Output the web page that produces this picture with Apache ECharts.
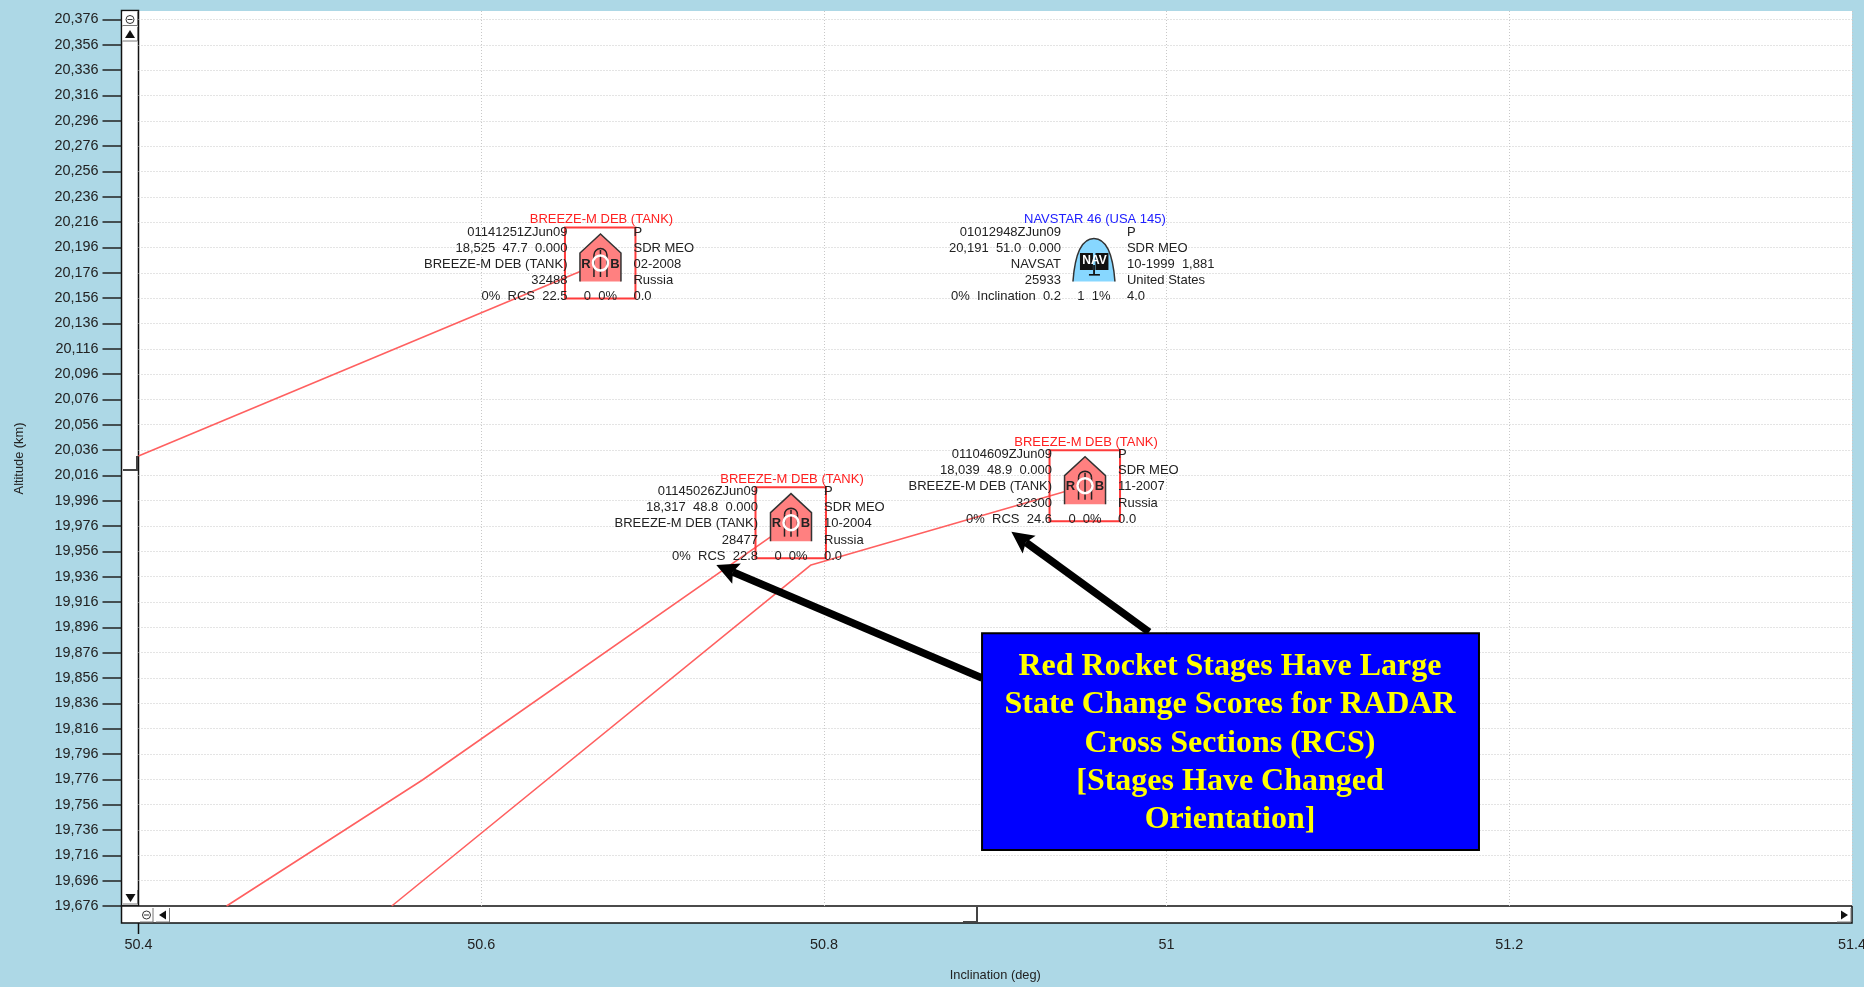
<!DOCTYPE html>
<html>
<head>
<meta charset="utf-8">
<style>html,body{margin:0;padding:0;background:#ADD8E6;overflow:hidden}#c{width:1864px;height:987px}</style>
<script src="https://cdn.jsdelivr.net/npm/echarts@6/dist/echarts.min.js"></script>
</head>
<body>
<div id="c"></div>
<script>
const altitudeTicks = [19676,19696,19716,19736,19756,19776,19796,19816,19836,19856,19876,19896,19916,19936,19956,19976,19996,20016,20036,20056,20076,20096,20116,20136,20156,20176,20196,20216,20236,20256,20276,20296,20316,20336,20356,20376];

const track1 = [[50.4,20031.3],[50.6696,20183.7]];
const track2 = [[50.4514,19676],[50.5657,19775.5],[50.7808,19978.7]];
const track3 = [[50.5478,19676],[50.7925,19945.3],[50.9524,20007.9]];

const objectPositions = [[50.6696,20183.7],[50.7808,19978.7],[50.9524,20007.9],[50.9576,20183.7]];
const objectTitles = ['BREEZE-M DEB (TANK)','BREEZE-M DEB (TANK)','BREEZE-M DEB (TANK)','NAVSTAR 46 (USA 145)'];
const objectKinds = ['rocket','rocket','rocket','nav'];
const objectLeft = [
  ['01141251ZJun09','18,525  47.7  0.000','BREEZE-M DEB (TANK)','32488','0%  RCS  22.5'],
  ['01145026ZJun09','18,317  48.8  0.000','BREEZE-M DEB (TANK)','28477','0%  RCS  22.8'],
  ['01104609ZJun09','18,039  48.9  0.000','BREEZE-M DEB (TANK)','32300','0%  RCS  24.6'],
  ['01012948ZJun09','20,191  51.0  0.000','NAVSAT','25933','0%  Inclination  0.2']
];
const objectRight = [
  ['P','SDR MEO','02-2008','Russia','0.0'],
  ['P','SDR MEO','10-2004','Russia','0.0'],
  ['P','SDR MEO','11-2007','Russia','0.0'],
  ['P','SDR MEO','10-1999  1,881','United States','4.0']
];
const objectCenter = ['0  0%','0  0%','0  0%','1  1%'];

const arrowTips = [[50.7372,19945.3],[50.9094,19971.5]];
const arrowBases = [[50.8923,19856],[50.9898,19892.3]];
const calloutCorners = [[50.8923,19891.3],[51.1823,19720.2]];
const calloutLines = ['Red Rocket Stages Have Large','State Change Scores for RADAR','Cross Sections (RCS)','[Stages Have Changed','Orientation]'];

const FONT = '"Liberation Sans", Arial, sans-serif';
const txtFont = '13px ' + FONT;
const RED = '#FF3B3B';

function t(text, x, y, align, fill, font) {
  return {type:'text', style:{text, x, y, textAlign:align, textVerticalAlign:'middle', fill:fill||'#222', font:font||txtFont}};
}
function rocketIcon(cx, cy) {
  const s = '#222';
  const c = [];
  c.push({type:'polygon', shape:{points:[[cx,cy-29],[cx+20.5,cy-10],[cx+20.5,cy+18.5],[cx-20.5,cy+18.5],[cx-20.5,cy-10]]}, style:{fill:'#FF8080', stroke:null}});
  c.push({type:'polyline', shape:{points:[[cx-20.5,cy+18.5],[cx-20.5,cy-10],[cx,cy-29],[cx+20.5,cy-10],[cx+20.5,cy+18.5]]}, style:{fill:null, stroke:'#333', lineWidth:1.5}});
  c.push({type:'polyline', shape:{points:[[cx-6.5,cy+14],[cx-6.5,cy-8]]}, style:{fill:null, stroke:s, lineWidth:1.5}});
  c.push({type:'polyline', shape:{points:[[cx+6.5,cy+14],[cx+6.5,cy-8]]}, style:{fill:null, stroke:s, lineWidth:1.5}});
  c.push({type:'polyline', shape:{points:[[cx,cy+14],[cx,cy-13]]}, style:{fill:null, stroke:s, lineWidth:1.5}});
  c.push({type:'arc', shape:{cx:cx, cy:cy-8, r:6.5, startAngle:Math.PI, endAngle:2*Math.PI}, style:{fill:null, stroke:s, lineWidth:1.5}});
  c.push({type:'circle', shape:{cx:cx, cy:cy, r:7.5}, style:{fill:null, stroke:'#fff', lineWidth:2.5}});
  c.push(t('R', cx-14.5, cy+1, 'center', '#222', 'bold 13px ' + FONT));
  c.push(t('B', cx+14.5, cy+1, 'center', '#222', 'bold 13px ' + FONT));
  return c;
}
function navIcon(cx, cy) {
  const c = [];
  c.push({type:'path', shape:{pathData:'M0 43 C2 16 9 0 21 0 C33 0 40 16 42 43', x:cx-21, y:cy-24.5, width:42, height:43, layout:'cover'}, style:{fill:'#87D7FF', stroke:'#333', lineWidth:1.5}});
  c.push({type:'rect', shape:{x:cx-14, y:cy-10, width:13, height:17}, style:{fill:'#111'}});
  c.push({type:'rect', shape:{x:cx+1.5, y:cy-10, width:13, height:17}, style:{fill:'#111'}});
  c.push({type:'rect', shape:{x:cx-0.8, y:cy+2, width:1.8, height:10}, style:{fill:'#111'}});
  c.push({type:'rect', shape:{x:cx-5, y:cy+11, width:11, height:1.6}, style:{fill:'#111'}});
  c.push(t('NAV', cx+0.5, cy-2, 'center', '#fff', 'bold 12px ' + FONT));
  return c;
}
const rowOffsets = [-31,-15,1,17.5,33.5];
function renderObject(params, api) {
  const i = api.value(2);
  const p = api.coord([api.value(0), api.value(1)]);
  const cx = p[0], cy = p[1];
  let ch = [];
  if (objectKinds[i] === 'rocket') {
    ch.push({type:'rect', shape:{x:cx-35.5, y:cy-35.5, width:70.5, height:71}, style:{fill:null, stroke:RED, lineWidth:2}});
    ch = ch.concat(rocketIcon(cx, cy));
  } else {
    ch = ch.concat(navIcon(cx, cy));
  }
  const titleColor = objectKinds[i] === 'rocket' ? '#FF2020' : '#2020FF';
  ch.push(t(objectTitles[i], cx+1, cy-43.5, 'center', titleColor));
  objectLeft[i].forEach((s, k) => ch.push(t(s, cx-33, cy+rowOffsets[k], 'right')));
  objectRight[i].forEach((s, k) => ch.push(t(s, cx+33, cy+rowOffsets[k], 'left')));
  ch.push(t(objectCenter[i], cx, cy+33.5, 'center'));
  return {type:'group', children:ch};
}
function renderArrow(params, api) {
  const a = api.coord([api.value(0), api.value(1)]);
  const b = api.coord([api.value(2), api.value(3)]);
  const dx = b[0]-a[0], dy = b[1]-a[1], L = Math.hypot(dx, dy), ux = dx/L, uy = dy/L, nx = -uy, ny = ux;
  const hl = 22, hw = 11, ns = 18;
  return {type:'group', children:[
    {type:'line', shape:{x1:a[0]+ux*ns, y1:a[1]+uy*ns, x2:b[0], y2:b[1]}, style:{stroke:'#000', lineWidth:7.5}},
    {type:'polygon', shape:{points:[a,[a[0]+ux*hl+nx*hw,a[1]+uy*hl+ny*hw],[a[0]+ux*ns,a[1]+uy*ns],[a[0]+ux*hl-nx*hw,a[1]+uy*hl-ny*hw]]}, style:{fill:'#000'}}
  ]};
}
function renderCallout(params, api) {
  const a = api.coord([api.value(0), api.value(1)]);
  const b = api.coord([api.value(2), api.value(3)]);
  const cx = (a[0]+b[0])/2 - 0.5;
  const ch = [{type:'rect', shape:{x:a[0], y:a[1], width:b[0]-a[0], height:b[1]-a[1]}, style:{fill:'#0000FF', stroke:'#000', lineWidth:2}}];
  calloutLines.forEach((s, k) => ch.push(t(s, cx, a[1]+33.5+k*38.3, 'center', '#FFFF00', 'bold 32px "Liberation Serif", serif')));
  return {type:'group', children:ch};
}
function btn(x, y, w, h) {
  return [
    {type:'rect', shape:{x, y, width:w, height:h}, style:{fill:'#fff', stroke:null}},
    {type:'polyline', shape:{points:[[x+w,y],[x+w,y+h],[x,y+h]]}, style:{fill:null, stroke:'#777', lineWidth:1}}
  ];
}
function tri(pts) { return {type:'polygon', shape:{points:pts}, style:{fill:'#111'}}; }
function minusBtn(cx, cy) {
  return [
    {type:'circle', shape:{cx, cy, r:4}, style:{fill:null, stroke:'#333', lineWidth:1}},
    {type:'line', shape:{x1:cx-2.5, y1:cy, x2:cx+2.5, y2:cy}, style:{stroke:'#333', lineWidth:1}}
  ];
}
const chrome = [].concat(
  [{type:'rect', shape:{x:121.5, y:10.5, width:17, height:895.5}, style:{fill:'#fff', stroke:'#111', lineWidth:1.5}}],
  [{type:'rect', shape:{x:121.5, y:906, width:1730.5, height:17}, style:{fill:'#fff', stroke:'#111', lineWidth:1.5}}],
  btn(122.5, 11.5, 15, 14), minusBtn(130, 19.5),
  btn(122.5, 27, 15, 14), [tri([[130,30],[135,38],[125,38]])],
  btn(123, 890, 14.5, 14), [tri([[130.5,902],[125.5,894],[135.5,894]])],
  btn(140, 908, 13, 14), minusBtn(146.5, 915),
  btn(156, 908, 13.5, 14), [tri([[159,915],[166,910.5],[166,919.5]])],
  btn(1837, 908, 14, 14), [tri([[1848,915],[1841,910.5],[1841,919.5]])],
  [
    {type:'polyline', shape:{points:[[123,470],[137,470],[137,456]]}, style:{fill:null, stroke:'#444', lineWidth:2}},
    {type:'polyline', shape:{points:[[963,922],[977,922],[977,907]]}, style:{fill:null, stroke:'#444', lineWidth:2}},
    {type:'line', shape:{x1:138.5, y1:923, x2:138.5, y2:934}, style:{stroke:'#111', lineWidth:1.5}}
  ]
);
const gridLine = {show:true, showMinLine:false, lineStyle:{type:[1,2], color:'#c8c8c8', width:1}};
const redLine = {color:'#FF6060', width:1.6};
function trackSeries(data) {
  return {type:'line', data, showSymbol:false, symbol:'none', z:2, silent:true, lineStyle:redLine, animation:false, clip:true};
}
const chart = echarts.init(document.getElementById('c'));
chart.setOption({
  animation:false,
  backgroundColor:'#ADD8E6',
  tooltip:{show:false},
  textStyle:{fontFamily:FONT},
  grid:{left:138.5, right:12, top:11, bottom:81, show:true, backgroundColor:'#fff', borderWidth:0, outerBoundsMode:'none'},
  xAxis:{
    type:'value', min:50.4, max:51.4, interval:0.2, offset:17,
    name:'Inclination (deg)', nameLocation:'middle', nameGap:46,
    nameTextStyle:{color:'#222', fontSize:12.8, fontFamily:FONT},
    axisLine:{show:false}, axisTick:{show:false},
    axisLabel:{color:'#222', fontSize:14.4, fontFamily:FONT, margin:15, showMinLabel:true, showMaxLabel:true, formatter:v=>String(+v.toFixed(1))},
    splitLine:gridLine
  },
  yAxis:{
    type:'value', min:19676, max:20382.7, offset:17,
    name:'Altitude (km)', nameLocation:'middle', nameGap:96, nameRotate:90,
    nameTextStyle:{color:'#222', fontSize:12.8, fontFamily:FONT},
    axisLine:{show:false},
    axisTick:{show:true, length:19, customValues:altitudeTicks, lineStyle:{color:'#222', width:1.5}},
    axisLabel:{color:'#222', fontSize:14.4, fontFamily:FONT, margin:23, customValues:altitudeTicks, formatter:v=>v.toLocaleString('en-US')},
    splitLine:gridLine
  },
  graphic:{elements:chrome},
  series:[
    trackSeries(track1), trackSeries(track2), trackSeries(track3),
    {type:'custom', z:3, silent:true, clip:false, renderItem:renderObject, encode:{x:0,y:1},
      data:objectPositions.map((p,i)=>[p[0],p[1],i])},
    {type:'custom', z:4, silent:true, clip:false, renderItem:renderArrow, encode:{x:[0,2],y:[1,3]},
      data:arrowTips.map((p,i)=>[p[0],p[1],arrowBases[i][0],arrowBases[i][1]])},
    {type:'custom', z:5, silent:true, clip:false, renderItem:renderCallout, encode:{x:[0,2],y:[1,3]},
      data:[[calloutCorners[0][0],calloutCorners[0][1],calloutCorners[1][0],calloutCorners[1][1]]]}
  ]
});
</script>
</body>
</html>
